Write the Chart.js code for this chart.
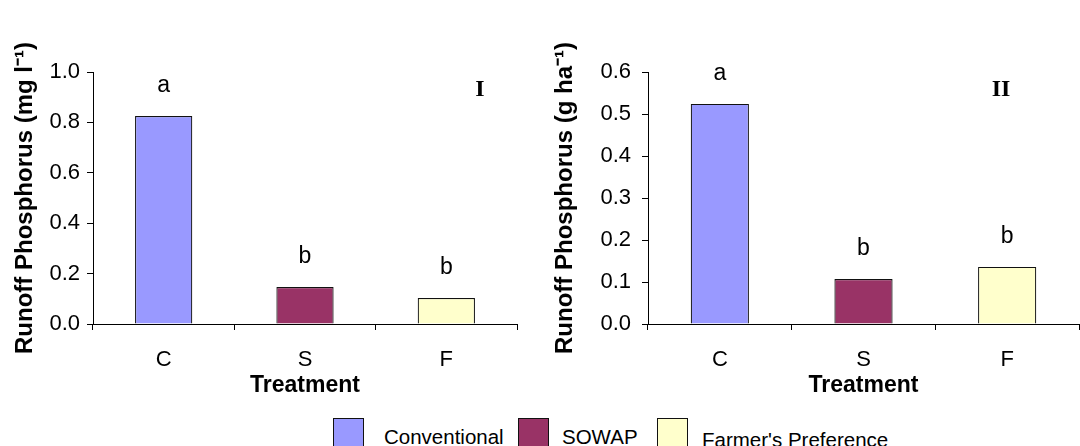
<!DOCTYPE html>
<html>
<head>
<meta charset="utf-8">
<script src="https://cdn.jsdelivr.net/npm/chart.js@4/dist/chart.umd.min.js"></script>
<style>
  body { margin: 0; background: #fff; width: 1080px; height: 446px; overflow: hidden; position: relative; font-family: "Liberation Sans", Arial, sans-serif; }
  .panel { position: absolute; top: 0; width: 540px; height: 400px; }
  .item { position: absolute; top: 418px; }
  .box { position: absolute; left: 0; top: 0; width: 31px; height: 31px; border: 1px solid #111; box-sizing: border-box; }
  .lab { position: absolute; top: 9px; font-size: 20.5px; color: #000; line-height: 20px; white-space: nowrap; }
</style>
</head>
<body>
<div class="panel" style="left:0"><canvas id="chart1" width="540" height="400"></canvas></div>
<div class="panel" style="left:540px"><canvas id="chart2" width="540" height="400"></canvas></div>
<div id="legend"></div>
<script>
const treatments = ['C', 'S', 'F']
const seriesNames = ['Conventional', 'SOWAP', "Farmer's Preference"]
const colors = ['#9999FF', '#993366', '#FFFFCC']

// panel I: runoff P concentration (mg l-1)
const concentration = [0.825, 0.147, 0.103]
const lettersI = ['a', 'b', 'b']
// panel II: runoff P load (g ha-1)
const load = [0.524, 0.107, 0.136]
const lettersII = ['a', 'b', 'b']

const font = '"Liberation Sans", Arial, sans-serif'
Chart.defaults.font.family = font
Chart.defaults.color = '#000'

const sigLetters = {
  id: 'sigLetters',
  afterDatasetsDraw(chart, args, opts) {
    const ctx = chart.ctx
    const bars = chart.getDatasetMeta(0).data
    ctx.save()
    ctx.fillStyle = '#000'
    ctx.textAlign = 'center'
    ctx.textBaseline = 'alphabetic'
    ctx.font = '23px ' + font
    bars.forEach((bar, i) => ctx.fillText(opts.letters[i], bar.x, bar.y - 24))
    ctx.font = 'bold 24px "Liberation Serif", "Times New Roman", serif'
    ctx.textBaseline = 'middle'
    ctx.fillText(opts.panel, chart.chartArea.right - opts.panelOffset, 90)
    ctx.restore()
  }
}

function makeChart(id, values, letters, panel, yTitle, yMax, yStep, yWidth, tickPad, panelOffset) {
  return new Chart(document.getElementById(id), {
    type: 'bar',
    data: {
      labels: treatments,
      datasets: [{
        data: values,
        backgroundColor: colors,
        borderColor: '#111',
        borderWidth: 1.2,
        categoryPercentage: 1,
        barPercentage: 0.405,
      }]
    },
    options: {
      responsive: false,
      animation: false,
      layout: { padding: { top: 72, right: id === 'chart1' ? 23 : 1, left: 0, bottom: 0 } },
      plugins: {
        legend: { display: false },
        tooltip: { enabled: false },
        sigLetters: { letters, panel, panelOffset },
      },
      scales: {
        x: {
          grid: { drawOnChartArea: false, tickLength: 6, color: '#000', offset: true },
          border: { color: '#000', width: 1 },
          ticks: { font: { size: 22 }, padding: 17, color: '#000' },
          title: { display: true, text: 'Treatment', font: { size: 23, weight: 'bold' }, padding: { top: 0, bottom: 1 } },
          afterFit(scale) { scale.height = 76 },
        },
        y: {
          min: 0,
          max: yMax,
          grid: { drawOnChartArea: false, tickLength: 6, color: '#000' },
          border: { color: '#000', width: 1 },
          ticks: { stepSize: yStep, font: { size: 22 }, padding: tickPad, color: '#000', callback: v => v.toFixed(1) },
          title: { display: true, text: yTitle, font: { size: 24, weight: 'bold' }, padding: { top: 11, bottom: 0 } },
          afterFit(scale) { scale.width = yWidth },
        }
      }
    },
    plugins: [sigLetters]
  })
}

makeChart('chart1', concentration, lettersI, 'I', 'Runoff Phosphorus (mg l\u207B\u00B9)', 1.0, 0.2, 93, 7, 37)
makeChart('chart2', load, lettersII, 'II', 'Runoff Phosphorus (g ha\u207B\u00B9)', 0.6, 0.1, 108, 11, 78)

// legend layout: box left edge and gap from box to its label
const legendBoxX = [333, 518, 657]
const legendGap = [51, 44, 45]
const legend = document.getElementById('legend')
seriesNames.forEach((name, i) => {
  const item = document.createElement('div')
  item.className = 'item'
  item.style.left = legendBoxX[i] + 'px'
  item.innerHTML = '<div class="box" style="background:' + colors[i] + '"></div>' +
    '<div class="lab" style="left:' + legendGap[i] + 'px' + (i === 2 ? ';top:12px' : '') + '">' + name + '</div>'
  legend.appendChild(item)
})
</script>
</body>
</html>
